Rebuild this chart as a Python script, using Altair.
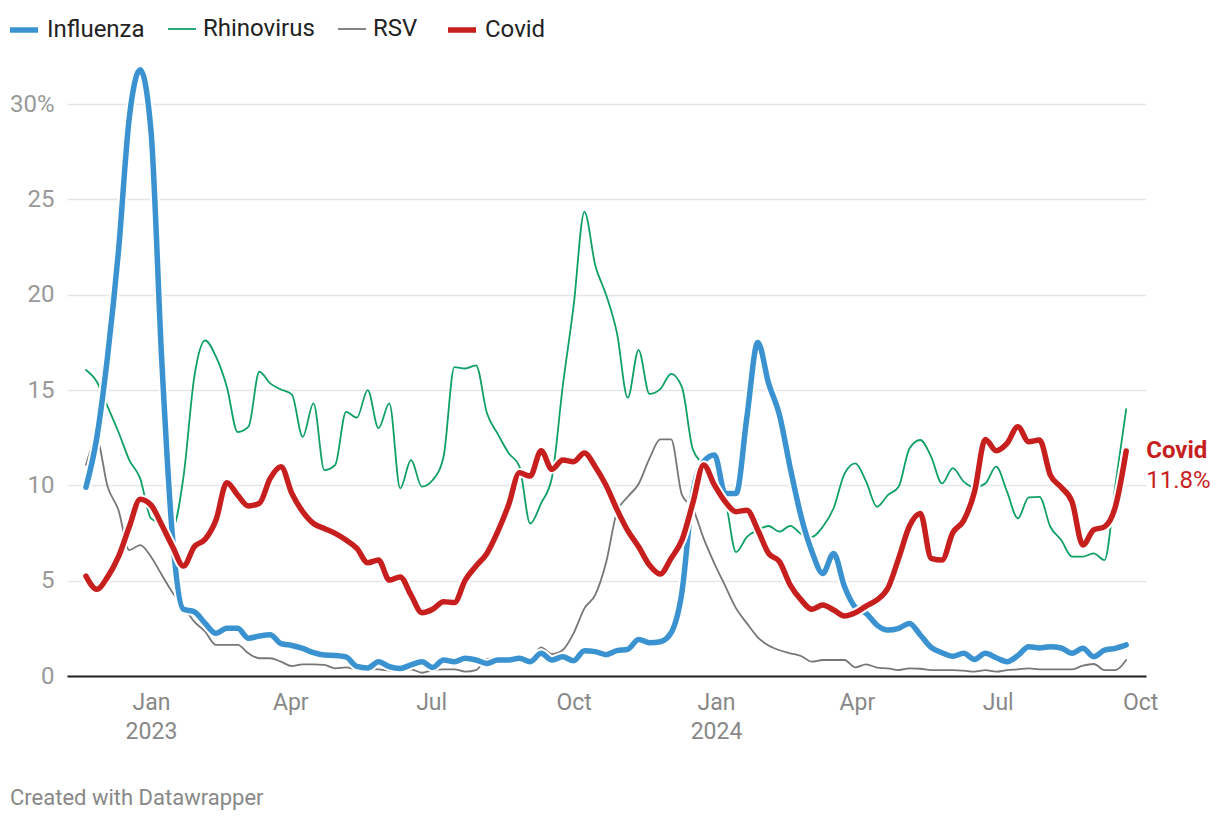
import altair as alt
import pandas as pd

# ---- data (weekly values, % positive) ----
start_date = "2022-11-20"

influenza = [9.9, 12.5, 16.8, 22.3, 29.3, 31.8, 28.6, 16.5, 7.2, 3.5,
             3.37, 2.76, 2.24, 2.5, 2.5, 1.98, 2.1, 2.17, 1.7, 1.6,
             1.45, 1.22, 1.1, 1.08, 1.0, 0.5, 0.42, 0.75, 0.49, 0.4,
             0.58, 0.75, 0.45, 0.84, 0.75, 0.93, 0.84, 0.66, 0.84, 0.84,
             0.93, 0.75, 1.19, 0.84, 1.01, 0.8, 1.33, 1.28, 1.12, 1.33,
             1.4, 1.92, 1.75, 1.8, 2.27, 4.4, 9.58, 11.24, 11.6, 9.58,
             9.58, 13.6, 17.5, 15.35, 13.7, 10.9, 8.36, 6.52, 5.38, 6.43,
             4.69, 3.6, 3.29, 2.67, 2.41, 2.5, 2.76, 2.15, 1.5, 1.22,
             1.03, 1.19, 0.87, 1.19, 0.96, 0.75, 1.07, 1.54, 1.47, 1.54,
             1.47, 1.19, 1.45, 1.01, 1.36, 1.45, 1.63]

rhinovirus = [16.05, 15.44, 14.13, 12.8, 11.33, 10.37, 8.27, 8.0, 7.8, 10.45,
              15.7, 17.6, 16.75, 15.17, 12.8, 13.08, 15.96, 15.35, 15.03, 14.77,
              12.55, 14.3, 10.8, 11.07, 13.86, 13.55, 15.0, 13.0, 14.3, 9.84,
              11.33, 9.93, 10.28, 11.5, 16.2, 16.13, 16.3, 13.8, 12.7, 11.7,
              11.0, 8.0, 9.06, 10.4, 15.2, 19.4, 24.35, 21.55, 20.0, 18.0,
              14.6, 17.1, 14.8, 15.05, 15.85, 15.15, 11.9, 11.06, 10.1, 9.2,
              6.5, 7.3, 7.66, 7.87, 7.57, 7.88, 7.45, 7.3, 7.83, 8.8,
              10.6, 11.15, 10.2, 8.88, 9.49, 9.93, 11.94, 12.38, 11.5, 10.1,
              10.9, 10.2, 9.9, 10.1, 10.98, 9.67, 8.27, 9.37, 9.4, 7.83,
              7.13, 6.26, 6.26, 6.43, 6.08, 10.0, 14.0]

rsv = [11.07, 12.38, 9.93, 8.7, 6.6, 6.87, 6.26, 5.3, 4.37, 3.64,
       2.85, 2.33, 1.63, 1.63, 1.63, 1.19, 0.93, 0.93, 0.75, 0.52,
       0.61, 0.61, 0.58, 0.4, 0.45, 0.35, 0.38, 0.35, 0.28, 0.23,
       0.35, 0.17, 0.31, 0.35, 0.35, 0.23, 0.31, 0.89, 0.93, 0.93,
       0.8, 0.84, 1.5, 1.15, 1.36, 2.24, 3.55, 4.25, 5.95, 8.6,
       9.4, 10.07, 11.4, 12.41, 12.41, 9.5, 8.8, 7.22, 5.9, 4.72,
       3.55, 2.76, 2.03, 1.6, 1.35, 1.19, 1.05, 0.75, 0.84, 0.84,
       0.84, 0.45, 0.61, 0.44, 0.4, 0.31, 0.4, 0.38, 0.31, 0.31,
       0.31, 0.28, 0.23, 0.31, 0.23, 0.31, 0.35, 0.4, 0.35, 0.35,
       0.35, 0.35, 0.54, 0.63, 0.31, 0.31, 0.84]

covid = [5.24, 4.55, 5.2, 6.26, 7.83, 9.27, 8.97, 7.92, 6.78, 5.77,
         6.78, 7.17, 8.18, 10.14, 9.49, 8.92, 9.06, 10.37, 10.98, 9.58,
         8.62, 8.0, 7.74, 7.48, 7.13, 6.7, 5.94, 6.08, 5.03, 5.2,
         4.24, 3.32, 3.5, 3.9, 3.85, 5.03, 5.77, 6.43, 7.57, 8.97,
         10.66, 10.49, 11.82, 10.84, 11.33, 11.24, 11.7, 10.98, 10.0, 8.74,
         7.62, 6.78, 5.82, 5.35, 6.17, 7.13, 9.06, 11.07, 10.02, 9.14,
         8.62, 8.7, 7.66, 6.43, 6.0, 4.77, 3.99, 3.5, 3.72, 3.46,
         3.15, 3.32, 3.67, 3.99, 4.6, 6.17, 7.87, 8.53, 6.17, 6.08,
         7.52, 8.15, 9.67, 12.41, 11.82, 12.2, 13.08, 12.29, 12.38, 10.54,
         9.9, 9.14, 6.87, 7.66, 7.83, 8.88, 11.8]

series_names = ["Influenza", "Rhinovirus", "RSV", "Covid"]
series_colors = ["#3a93d0", "#0fa066", "#777777", "#c71e1e"]
series_widths = [5.5, 1.8, 1.8, 5.5]

x_ticks = ["2023-01-01", "2023-04-01", "2023-07-01", "2023-10-01",
           "2024-01-01", "2024-04-01", "2024-07-01", "2024-10-01"]
y_ticks = [0, 5, 10, 15, 20, 25, 30]
credit = "Created with Datawrapper"

# ---- table ----
dates = pd.date_range(start_date, periods=len(covid), freq="7D")
rows = []
for name, vals in zip(series_names, [influenza, rhinovirus, rsv, covid]):
    for d, v in zip(dates, vals):
        rows.append({"date": d, "series": name, "value": v})
df = pd.DataFrame(rows)

last = pd.DataFrame({"date": [dates[-1]], "value": [covid[-1]],
                     "name": ["Covid"], "pct": [f"{covid[-1]:.1f}%"]})
footer = pd.DataFrame({"t": [credit]})

FONT = "Roboto"


def to_dt(s):
    t = pd.Timestamp(s)
    return alt.DateTime(year=t.year, month=t.month, date=t.day)


x_enc = alt.X(
    "date:T",
    scale=alt.Scale(domain=[alt.DateTime(year=2022, month=11, date=7, hours=18),
                            alt.DateTime(year=2024, month=10, date=4, hours=19)]),
    axis=alt.Axis(
        values=[to_dt(s) for s in x_ticks],
        labelExpr="month(datum.value) == 0 ? ['Jan', timeFormat(datum.value, '%Y')] : timeFormat(datum.value, '%b')",
        title=None, ticks=False, grid=False,
        domainColor="#222222", domainWidth=2,
        labelFontSize=23, labelColor="#888888", labelFont=FONT,
        labelPadding=15, labelLineHeight=29, labelOverlap=False, labelFlush=False,
    ),
)
y_enc = alt.Y(
    "value:Q",
    scale=alt.Scale(domain=[0, 32], nice=False, zero=True),
    axis=alt.Axis(
        values=y_ticks,
        labelExpr="datum.value == 30 ? '30%' : datum.label",
        title=None, domain=False, ticks=False,
        gridColor="#e6e6e6", gridWidth=1.5,
        labelFontSize=24, labelColor="#999999", labelFont=FONT,
        labelPadding=13,
    ),
)

legend = alt.Legend(
    title=None, orient="none", legendX=-60, legendY=-53, direction="horizontal",
    symbolType="stroke", symbolSize=784, labelFontSize=24, labelFont=FONT,
    labelColor="#222222", labelOffset=6, columnPadding=19,
)
color_enc = alt.Color("series:N", scale=alt.Scale(domain=series_names, range=series_colors),
                      legend=legend)
width_enc = alt.StrokeWidth("series:N",
                            scale=alt.Scale(type="ordinal", domain=series_names, range=series_widths),
                            legend=legend)

base = alt.Chart(df).encode(x=x_enc, y=y_enc)

thin = base.transform_filter(
    alt.FieldOneOfPredicate(field="series", oneOf=["RSV", "Rhinovirus"])
).mark_line(interpolate="monotone", strokeCap="round", strokeJoin="round").encode(
    color=color_enc, strokeWidth=width_enc)

flu_halo = base.transform_filter(alt.datum.series == "Influenza").mark_line(
    interpolate="monotone", color="white", strokeWidth=9.5, strokeCap="round", strokeJoin="round")
flu = base.transform_filter(alt.datum.series == "Influenza").mark_line(
    interpolate="monotone", strokeCap="round", strokeJoin="round").encode(
    color=color_enc, strokeWidth=width_enc)

cov_halo = base.transform_filter(alt.datum.series == "Covid").mark_line(
    interpolate="monotone", color="white", strokeWidth=9.5, strokeCap="round", strokeJoin="round")
cov = base.transform_filter(alt.datum.series == "Covid").mark_line(
    interpolate="monotone", strokeCap="round", strokeJoin="round").encode(
    color=color_enc, strokeWidth=width_enc)

lab1 = alt.Chart(last).mark_text(align="left", baseline="middle", dx=20, dy=0,
                                 fontSize=24, fontWeight="bold", font=FONT,
                                 color="#c71e1e").encode(x="date:T", y="value:Q", text="name:N")
lab2 = alt.Chart(last).mark_text(align="left", baseline="middle", dx=20, dy=30,
                                 fontSize=24, font=FONT,
                                 color="#c71e1e").encode(x="date:T", y="value:Q", text="pct:N")

foot = alt.Chart(footer).mark_text(align="left", baseline="middle", fontSize=22,
                                   font=FONT, color="#888888").encode(
    x=alt.value(-57), y=alt.value(732), text="t:N")

chart = alt.layer(thin, flu_halo, flu, cov_halo, cov, lab1, lab2, foot).properties(
    width=1079, height=610,
    autosize=alt.AutoSizeParams(type="none"),
    padding={"left": 59, "top": 58, "right": 66, "bottom": 140},
).configure(font=FONT, background="white").configure_view(stroke=None)

chart.save("out.html", embed_options={"renderer": "svg", "actions": False})
